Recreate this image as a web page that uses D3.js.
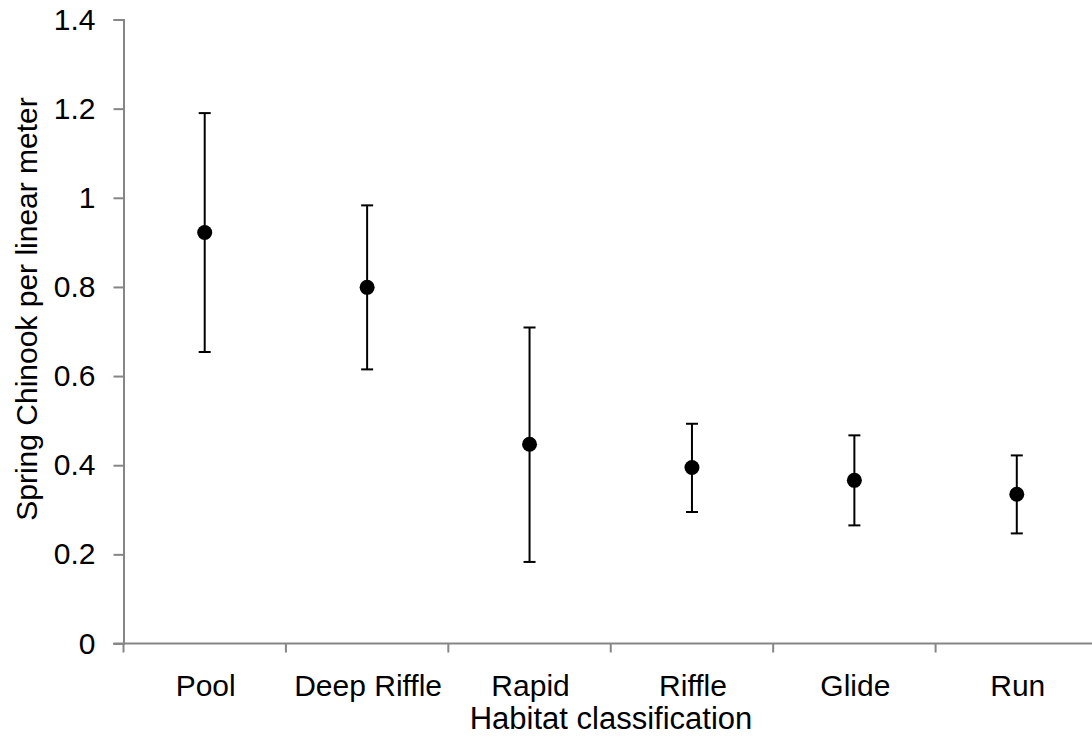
<!DOCTYPE html>
<html lang="en">
    <head>
        <meta charset="utf-8">
        <title>Spring Chinook per habitat</title>
        <script type="text/javascript" src="https://cdn.jsdelivr.net/npm/d3@7"></script>
        <style>
            body { margin: 0; background: white; }
            text { font-family: "Liberation Sans", Arial, sans-serif; }
        </style>
    </head>
    <body>
        <script type="text/javascript">
            const habitats = ["Pool", "Deep Riffle", "Rapid", "Riffle", "Glide", "Run"]
            const means = [0.922, 0.799, 0.447, 0.395, 0.366, 0.335]
            const upper = [1.190, 0.983, 0.709, 0.493, 0.467, 0.422]
            const lower = [0.654, 0.615, 0.183, 0.295, 0.265, 0.247]
            const yTicks = [0, 0.2, 0.4, 0.6, 0.8, 1, 1.2, 1.4]

            const w = 1092
            const h = 740
            const plotLeft = 123.5
            const plotRight = 1098
            const plotTop = 19.5
            const plotBottom = 643.5
            const axisColor = "#868686"

            let svg = d3.select("body")
                        .append("svg")
                            .attr("width", w)
                            .attr("height", h)

            let x = d3.scaleBand().domain(habitats).range([plotLeft, plotRight])
            let y = d3.scaleLinear().domain([0, 1.4]).range([plotBottom, plotTop])

            // y axis
            let yAxis = svg.append("g")
                .attr("transform", `translate(${plotLeft},0)`)
                .call(d3.axisLeft(y).tickValues(yTicks).tickSize(10).tickPadding(18)
                    .tickFormat(d => d3.format("~g")(d)))
            yAxis.select(".domain").attr("stroke", axisColor).attr("stroke-width", 2)
            yAxis.selectAll(".tick line").attr("stroke", axisColor).attr("stroke-width", 2)
            yAxis.selectAll(".tick text")
                .attr("font-family", "Liberation Sans, Arial, sans-serif")
                .attr("font-size", "30px")
                .attr("fill", "black")

            // x axis, ticks at band edges
            let xAxis = svg.append("g").attr("transform", `translate(0,${plotBottom})`)
            xAxis.append("line")
                .attr("x1", plotLeft - 10).attr("x2", plotRight)
                .attr("y1", 0).attr("y2", 0)
                .attr("stroke", axisColor).attr("stroke-width", 2)
            xAxis.selectAll(".xtick")
                .data(habitats)
                .enter()
                .append("line")
                .attr("class", "xtick")
                .attr("x1", d => x(d)).attr("x2", d => x(d))
                .attr("y1", 0).attr("y2", 9)
                .attr("stroke", axisColor).attr("stroke-width", 2)
            xAxis.selectAll(".xlabel")
                .data(habitats)
                .enter()
                .append("text")
                .attr("class", "xlabel")
                .attr("x", d => x(d) + x.bandwidth() / 2 + 1)
                .attr("y", 52)
                .attr("text-anchor", "middle")
                .attr("font-size", "30px")
                .attr("fill", "black")
                .text(d => d)

            // error bars
            let g = svg.append("g")
            habitats.forEach((d, i) => {
                let cx = x(d) + x.bandwidth() / 2
                g.append("line")
                    .attr("x1", cx).attr("x2", cx)
                    .attr("y1", y(upper[i])).attr("y2", y(lower[i]))
                    .attr("stroke", "black").attr("stroke-width", 2)
                ;[upper[i], lower[i]].forEach(v => {
                    g.append("line")
                        .attr("x1", cx - 6).attr("x2", cx + 6)
                        .attr("y1", y(v)).attr("y2", y(v))
                        .attr("stroke", "black").attr("stroke-width", 2)
                })
                g.append("circle")
                    .attr("cx", cx).attr("cy", y(means[i]))
                    .attr("r", 7.5)
                    .attr("fill", "black")
            })

            // titles
            svg.append("text")
                .attr("x", 611)
                .attr("y", 729)
                .attr("text-anchor", "middle")
                .attr("font-size", "31px")
                .attr("fill", "black")
                .text("Habitat classification")
            svg.append("text")
                .attr("transform", "translate(37,309) rotate(-90)")
                .attr("text-anchor", "middle")
                .attr("font-size", "30px")
                .attr("fill", "black")
                .text("Spring Chinook per linear meter")
        </script>
    </body>
</html>
